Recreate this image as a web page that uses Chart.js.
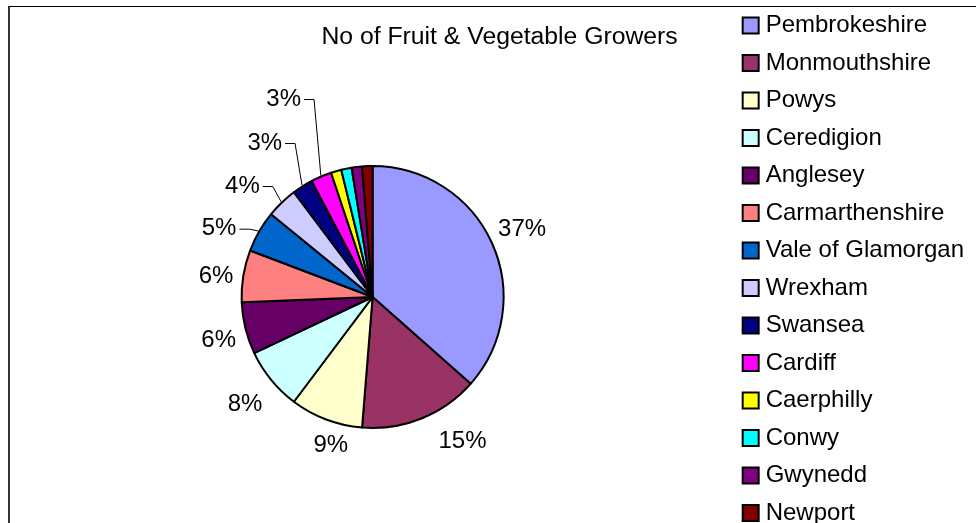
<!DOCTYPE html>
<html>
<head>
<meta charset="utf-8">
<script src="https://cdn.jsdelivr.net/npm/chart.js@4.4.1/dist/chart.umd.min.js"></script>
<style>
  html, body { margin: 0; padding: 0; background: #fff; overflow: hidden; }
  #frame {
    position: absolute; left: 8px; top: 6px; width: 1200px; height: 800px;
    border-top: 1px solid #000; border-left: 2px solid #333;
  }
  #wrap { position: absolute; left: 0; top: 0; width: 974px; height: 594px; }
</style>
</head>
<body>
<div id="frame"></div>
<div id="wrap"><canvas id="growersChart"></canvas></div>
<script>
const regions = [
    "Pembrokeshire", "Monmouthshire", "Powys", "Ceredigion", "Anglesey",
    "Carmarthenshire", "Vale of Glamorgan", "Wrexham", "Swansea", "Cardiff",
    "Caerphilly", "Conwy", "Gwynedd", "Newport",
];
const growers = [57, 23, 14, 12, 10, 10, 8, 6, 4, 4, 2, 2, 2, 2];
const colours = [
    "#9999FF", "#993366", "#FFFFCC", "#CCFFFF", "#660066", "#FF8080", "#0066CC",
    "#CCCCFF", "#000080", "#FF00FF", "#FFFF00", "#00FFFF", "#800080", "#800000",
];
const chartTitle = "No of Fruit & Vegetable Growers";

const FONT = '"Liberation Sans", Arial, sans-serif';

// percentage labels round the pie, leader lines for the ones dragged out
const pctLabels = {
    id: "pctLabels",
    afterDatasetsDraw(chart, args, opts) {
        const ctx = chart.ctx;
        const meta = chart.getDatasetMeta(0);
        const values = chart.data.datasets[0].data;
        const total = values.reduce((a, b) => a + b, 0);
        ctx.save();
        ctx.font = "24px " + FONT;
        ctx.fillStyle = "#000";
        ctx.strokeStyle = "#000";
        ctx.lineWidth = 1;
        ctx.textAlign = "center";
        ctx.textBaseline = "middle";
        meta.data.forEach((arc, i) => {
            const pct = Math.round((values[i] / total) * 100);
            const place = opts.place[i];
            if (pct < 2 || !place) return;
            const text = pct + "%";
            const p = arc.getProps(["x", "y", "startAngle", "endAngle", "outerRadius"], true);
            const mid = (p.startAngle + p.endAngle) / 2;
            const w = ctx.measureText(text).width;
            const a = mid + (place.turn * Math.PI) / 180;
            const d = p.outerRadius + place.out;
            const lx = p.x + Math.cos(a) * d;
            const ly = p.y + Math.sin(a) * d;
            ctx.fillText(text, lx, ly);
            if (place.leader) {
                const sx = lx + w / 2 + 3;
                ctx.beginPath();
                ctx.moveTo(sx, ly + 0.5);
                ctx.lineTo(sx + 10, ly + 0.5);
                ctx.lineTo(p.x + Math.cos(mid) * (p.outerRadius + 1), p.y + Math.sin(mid) * (p.outerRadius + 1));
                ctx.stroke();
            }
        });
        ctx.restore();
    },
};

// title sits beside the legend, not over the whole width
const sideTitle = {
    id: "sideTitle",
    afterDraw(chart, args, opts) {
        const ctx = chart.ctx;
        const area = chart.chartArea;
        ctx.save();
        ctx.font = "24.75px " + FONT;
        ctx.fillStyle = "#000";
        ctx.textAlign = "center";
        ctx.textBaseline = "middle";
        ctx.fillText(opts.text, (area.left + area.right) / 2 + opts.shiftX, area.top + opts.y);
        ctx.restore();
    },
};

new Chart(document.getElementById("growersChart"), {
    type: "pie",
    data: {
        labels: regions,
        datasets: [
            {
                data: growers,
                backgroundColor: colours,
                borderColor: "#000",
                borderWidth: 2,
            },
        ],
    },
    options: {
        responsive: true,
        maintainAspectRatio: false,
        animation: false,
        radius: 131,
        layout: {
            padding: { left: 11, top: 0, right: 0, bottom: 0 },
        },
        plugins: {
            legend: {
                position: "right",
                align: "start",
                labels: {
                    color: "#000",
                    font: { family: FONT, size: 24 },
                    usePointStyle: true,
                    pointStyle: "rect",
                    boxWidth: 6,
                    boxHeight: 16,
                    padding: 13.5,
                },
            },
            tooltip: { enabled: false },
            title: { display: false },
            pctLabels: {
                // turn: degrees off the slice middle, out: px beyond the rim
                place: {
                    0: { turn: 0, out: 33 },
                    1: { turn: -10, out: 39 },
                    2: { turn: -5, out: 23 },
                    3: { turn: -1, out: 36 },
                    4: { turn: -2, out: 29 },
                    5: { turn: -1.6, out: 27 },
                    6: { turn: -6, out: 37, leader: true },
                    7: { turn: -5.7, out: 40, leader: true },
                    8: { turn: -2.7, out: 57, leader: true },
                    9: { turn: -1.1, out: 86, leader: true },
                },
            },
            sideTitle: {
                text: chartTitle,
                shiftX: 127,
                y: 37,
            },
        },
    },
    plugins: [pctLabels, sideTitle],
});
</script>
</body>
</html>
